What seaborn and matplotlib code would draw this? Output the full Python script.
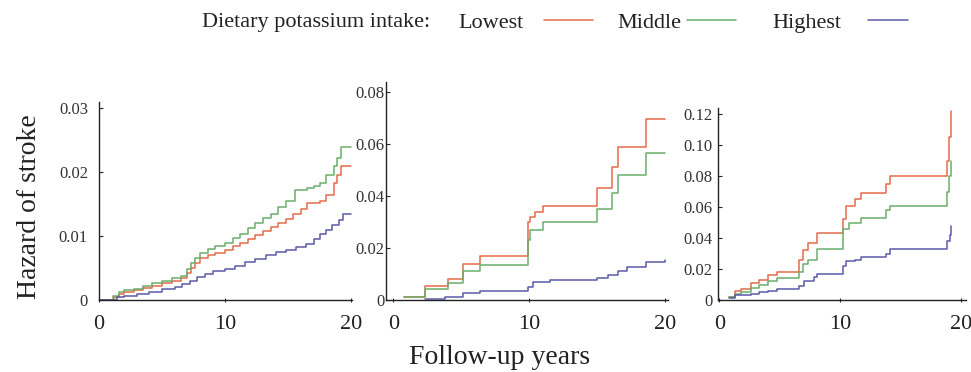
import pandas as pd
import seaborn as sns
import matplotlib.pyplot as plt

# ---- data (cumulative hazard, step functions) ----
groups = ['Lowest', 'Middle', 'Highest']
colors = {'Lowest': '#e5694c', 'Middle': '#6aad6a', 'Highest': '#5b5aa8'}

# panel 1
p1_low_t = [0, 1.2, 1.6, 2.0, 2.8, 3.5, 4.2, 5.0, 5.8, 6.5, 7.0, 7.3, 7.6, 8.0, 8.6, 9.2, 10.0, 10.6,
            11.2, 11.8, 12.4, 13.0, 13.6, 14.2, 14.8, 15.4, 16.0, 16.5, 17.5, 18.0, 18.6, 18.9, 19.2, 20]
p1_low_h = [0, 0.0005, 0.0010, 0.0013, 0.0016, 0.0019, 0.0022, 0.0026, 0.0030, 0.0034, 0.0042, 0.0050,
            0.0058, 0.0065, 0.0070, 0.0074, 0.0079, 0.0085, 0.0090, 0.0096, 0.0102, 0.0108, 0.0114,
            0.0120, 0.0127, 0.0134, 0.0142, 0.0152, 0.0155, 0.0165, 0.0183, 0.0195, 0.0210, 0.0210]
p1_mid_t = [0, 1.1, 1.6, 2.0, 2.8, 3.5, 4.2, 5.0, 5.8, 6.5, 7.0, 7.3, 7.6, 8.0, 8.6, 9.2, 10.0, 10.6,
            11.2, 11.8, 12.4, 13.0, 13.6, 14.2, 14.8, 15.5, 16.5, 17.0, 17.5, 18.0, 18.6, 18.9, 19.2, 20]
p1_mid_h = [0, 0.0006, 0.0012, 0.0015, 0.0018, 0.0022, 0.0026, 0.0030, 0.0034, 0.0038, 0.0048, 0.0058,
            0.0066, 0.0074, 0.0080, 0.0085, 0.0090, 0.0097, 0.0104, 0.0112, 0.0120, 0.0128, 0.0135,
            0.0145, 0.0155, 0.0172, 0.0175, 0.0178, 0.0183, 0.0195, 0.0210, 0.0222, 0.0240, 0.0240]
p1_high_t = [0, 1.4, 2.0, 3.0, 4.0, 5.0, 6.0, 6.6, 7.2, 7.8, 8.4, 9.0, 10.0, 10.8, 11.6, 12.4, 13.2,
             14.0, 14.8, 15.6, 16.4, 17.0, 17.5, 18.0, 18.5, 19.0, 19.3, 20]
p1_high_h = [0, 0.0004, 0.0007, 0.0010, 0.0013, 0.0017, 0.0021, 0.0025, 0.0030, 0.0036, 0.0040, 0.0045,
             0.0049, 0.0054, 0.0059, 0.0064, 0.0070, 0.0075, 0.0079, 0.0083, 0.0088, 0.0095, 0.0103,
             0.0110, 0.0117, 0.0125, 0.0135, 0.0135]

# panel 2
p2_low_t = [0.75, 2.3, 4.0, 5.1, 6.4, 9.9, 10.05, 10.4, 11.0, 15.0, 16.1, 16.5, 18.6, 20]
p2_low_h = [0.0013, 0.0054, 0.0081, 0.014, 0.017, 0.030, 0.032, 0.034, 0.036, 0.043, 0.051, 0.059,
            0.0696, 0.0696]
p2_mid_t = [0.75, 2.3, 4.0, 5.1, 6.4, 9.9, 10.05, 11.0, 15.0, 16.1, 16.5, 18.6, 20]
p2_mid_h = [0.0013, 0.0042, 0.0064, 0.0113, 0.0135, 0.023, 0.027, 0.030, 0.035, 0.041, 0.048, 0.0565,
            0.0565]
p2_high_t = [2.3, 3.8, 5.1, 6.4, 9.9, 10.3, 11.5, 15.0, 15.8, 16.5, 17.2, 18.6, 20]
p2_high_h = [0.0004, 0.0013, 0.0026, 0.0035, 0.0051, 0.007, 0.0078, 0.0085, 0.0095, 0.011, 0.0125,
             0.0145, 0.0155]

# panel 3
p3_low_t = [0.8, 1.3, 1.8, 2.6, 3.3, 4.0, 4.8, 6.6, 6.9, 7.3, 8.1, 10.2, 10.5, 11.2, 11.7, 13.8, 14.1,
            18.8, 19.0, 19.2]
p3_low_h = [0.002, 0.006, 0.007, 0.011, 0.013, 0.016, 0.018, 0.026, 0.032, 0.037, 0.043, 0.052, 0.061,
            0.065, 0.069, 0.075, 0.080, 0.090, 0.105, 0.122]
p3_mid_t = [0.8, 1.3, 1.8, 2.6, 3.3, 4.0, 4.8, 6.6, 6.9, 7.3, 8.1, 10.2, 10.7, 11.7, 13.8, 14.1, 18.8,
            19.0, 19.2]
p3_mid_h = [0.002, 0.004, 0.005, 0.008, 0.010, 0.012, 0.014, 0.018, 0.023, 0.026, 0.033, 0.046, 0.050,
            0.053, 0.058, 0.061, 0.070, 0.080, 0.090]
p3_high_t = [0.8, 1.3, 2.6, 3.3, 4.0, 4.8, 6.6, 7.0, 7.8, 8.1, 10.2, 10.5, 11.2, 11.7, 13.8, 14.1,
             18.8, 19.1, 19.2]
p3_high_h = [0.001, 0.003, 0.004, 0.005, 0.006, 0.007, 0.009, 0.012, 0.015, 0.017, 0.022, 0.025, 0.026,
             0.028, 0.030, 0.033, 0.038, 0.042, 0.048]

panels = [
    [(p1_low_t, p1_low_h), (p1_mid_t, p1_mid_h), (p1_high_t, p1_high_h)],
    [(p2_low_t, p2_low_h), (p2_mid_t, p2_mid_h), (p2_high_t, p2_high_h)],
    [(p3_low_t, p3_low_h), (p3_mid_t, p3_mid_h), (p3_high_t, p3_high_h)],
]
yticks = [[0, 0.01, 0.02, 0.03],
          [0, 0.02, 0.04, 0.06, 0.08],
          [0, 0.02, 0.04, 0.06, 0.08, 0.10, 0.12]]
ytick_labels = [['0', '0.01', '0.02', '0.03'],
                ['0', '0.02', '0.04', '0.06', '0.08'],
                ['0', '0.02', '0.04', '0.06', '0.08', '0.10', '0.12']]
xticks = [0, 10, 20]

# ---- layout ----
sns.set_style('ticks')
plt.rcParams['font.family'] = ['Liberation Serif', 'DejaVu Serif']

fig = plt.figure(figsize=(9.71, 3.72), dpi=100)
W, H = 971, 372


def px_axes(left, top, right, bottom):
    return fig.add_axes([left / W, 1 - bottom / H, (right - left) / W, (bottom - top) / H])


axes = [px_axes(99, 102, 352, 300), px_axes(386, 82, 668, 300), px_axes(718, 108, 966, 300)]
xlims = [(0, 20.05), (-0.55, 20.2), (-0.1, 20.4)]
ylims = [(0, 0.031), (0, 0.0838), (0, 0.124)]
ypads = [8, 1, 4]

for i, ax in enumerate(axes):
    rows = []
    for g, (t, h) in zip(groups, panels[i]):
        for tt, hh in zip(t, h):
            rows.append({'years': tt, 'hazard': hh, 'intake': g})
    df = pd.DataFrame(rows)
    sns.lineplot(data=df, x='years', y='hazard', hue='intake', hue_order=groups,
                 palette=colors, drawstyle='steps-post', lw=1.1, errorbar=None,
                 legend=False, ax=ax)
    ax.set_xlim(*xlims[i])
    ax.set_ylim(*ylims[i])
    ax.set_yticks(yticks[i])
    ax.set_yticklabels(ytick_labels[i], fontsize=12, color='#333333')
    ax.set_xticks(xticks)
    ax.set_xticklabels([str(x) for x in xticks], fontsize=16, color='#222222')
    ax.tick_params(axis='y', direction='in', length=3, width=0.8, pad=ypads[i])
    ax.tick_params(axis='x', direction='inout', length=3, width=0.8, pad=9)
    ax.set_xlabel('')
    ax.set_ylabel('')
    for s in ['top', 'right']:
        ax.spines[s].set_visible(False)
    for s in ['left', 'bottom']:
        ax.spines[s].set_color('#222222')
        ax.spines[s].set_linewidth(1.0)

fig.text(30 / W, 1 - 207 / H, 'Hazard of stroke', rotation=90, fontsize=20,
         ha='center', va='center', color='#222222')
fig.text(500 / W, 1 - 358 / H, 'Follow-up years', fontsize=20, ha='center', va='center',
         color='#222222')

# legend across the top: heading, then "label ——" for each group
handles = axes[0].get_lines()[:3]
fig.text(202 / W, 1 - 23 / H, 'Dietary potassium intake:', fontsize=16, ha='left', va='center',
         color='#222222')
leg_x = [458, 617, 772]
leg_pad = [0.95, 0.27, 1.2]
leg_len = [2.2, 2.2, 1.8]
for k in range(3):
    leg = fig.legend([handles[k]], [groups[k]], loc='center left',
                     bbox_to_anchor=(leg_x[k] / W, 1 - 23 / H), markerfirst=False,
                     frameon=False, fontsize=16, handlelength=leg_len[k],
                     handletextpad=leg_pad[k], borderpad=0, borderaxespad=0)
    for txt in leg.get_texts():
        txt.set_color('#222222')

fig.savefig('out.png', dpi=100)
